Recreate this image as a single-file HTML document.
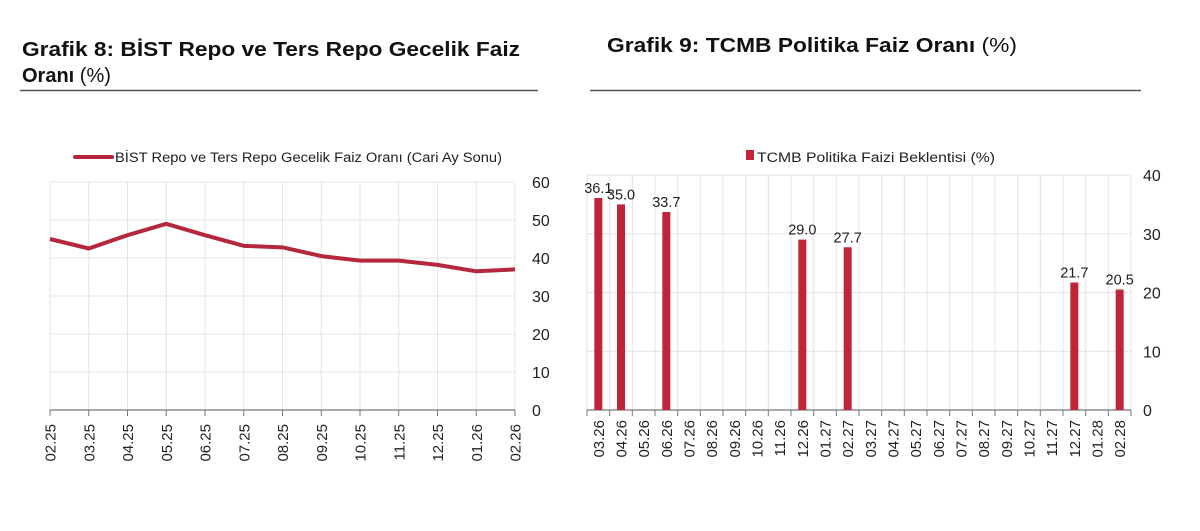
<!DOCTYPE html>
<html><head><meta charset="utf-8"><style>
html,body{margin:0;padding:0;background:#fff;}
svg{display:block;font-family:"Liberation Sans",sans-serif;}
</style></head><body>
<svg id="s" width="1200" height="531" viewBox="0 0 1200 531" xmlns="http://www.w3.org/2000/svg">
<text x="22" y="56" font-size="20" font-weight="bold" fill="#111" textLength="498" lengthAdjust="spacingAndGlyphs">Grafik 8:  BİST Repo ve Ters Repo Gecelik Faiz</text>
<text x="22" y="82" font-size="20" fill="#111"><tspan font-weight="bold">Oranı</tspan> (%)</text>
<line x1="20" y1="90.5" x2="538" y2="90.5" stroke="#555" stroke-width="1.5"/>
<text x="607" y="52" font-size="20" fill="#111" textLength="410" lengthAdjust="spacingAndGlyphs"><tspan font-weight="bold">Grafik 9: TCMB Politika Faiz Oranı</tspan> (%)</text>
<line x1="590" y1="90.5" x2="1141" y2="90.5" stroke="#555" stroke-width="1.5"/>
<line x1="75" y1="157" x2="112" y2="157" stroke="#b5273c" stroke-width="4" stroke-linecap="round"/>
<text x="115" y="162" font-size="13.5" fill="#222" textLength="387" lengthAdjust="spacingAndGlyphs">BİST Repo ve Ters Repo Gecelik Faiz Oranı (Cari Ay Sonu)</text>
<rect x="746" y="150" width="8" height="10" fill="#c0243a"/>
<text x="757" y="162" font-size="13.5" fill="#222" textLength="238" lengthAdjust="spacingAndGlyphs">TCMB Politika Faizi Beklentisi (%)</text>
<g id="g"></g>
</svg>
<script>
var g=document.getElementById('g'),h='';
for(var i=0;i<=6;i++){var y=410-38*i;if(i>0)h+='<line x1="50" x2="515" y1="'+y+'" y2="'+y+'" stroke="#e3e3e3"/>';h+='<text x="532" y="'+(y+6)+'" font-size="16" fill="#222">'+(i*10)+'</text>';}
var L=['02.25','03.25','04.25','05.25','06.25','07.25','08.25','09.25','10.25','11.25','12.25','01.26','02.26'];
var V=[45,42.5,46,49,46,43.2,42.8,40.5,39.3,39.3,38.2,36.5,37];
var pts=[];
for(var i=0;i<13;i++){var x=50+38.75*i;h+='<line x1="'+x+'" x2="'+x+'" y1="182" y2="410" stroke="#e3e3e3"/>';h+='<line x1="'+x+'" x2="'+x+'" y1="410" y2="416" stroke="#777"/>';
h+='<text transform="translate('+(x+5.5)+',424) rotate(-90)" text-anchor="end" font-size="15" fill="#222">'+L[i]+'</text>';pts.push(x+','+(410-3.8*V[i]));}
h+='<line x1="50" x2="515" y1="410" y2="410" stroke="#777" stroke-width="1.2"/>';
h+='<polyline points="'+pts.join(' ')+'" fill="none" stroke="#b5273c" stroke-width="4" stroke-linejoin="round"/>';
var x0=587,w=544/24;
for(var i=0;i<=4;i++){var y=410-58.75*i;if(i>0)h+='<line x1="'+x0+'" x2="1131" y1="'+y+'" y2="'+y+'" stroke="#e3e3e3"/>';h+='<text x="1143" y="'+(y+6)+'" font-size="16" fill="#222">'+(i*10)+'</text>';}
var R=['03.26','04.26','05.26','06.26','07.26','08.26','09.26','10.26','11.26','12.26','01.27','02.27','03.27','04.27','05.27','06.27','07.27','08.27','09.27','10.27','11.27','12.27','01.28','02.28'];
for(var i=0;i<=24;i++){var x=x0+w*i;h+='<line x1="'+x+'" x2="'+x+'" y1="175" y2="410" stroke="#e3e3e3"/><line x1="'+x+'" x2="'+x+'" y1="410" y2="416" stroke="#777"/>';}
for(var i=0;i<24;i++){var c=x0+w*(i+0.5);h+='<text transform="translate('+(c+5.5)+',420) rotate(-90)" text-anchor="end" font-size="15" fill="#222">'+R[i]+'</text>';}
h+='<line x1="'+x0+'" x2="1131" y1="410" y2="410" stroke="#777" stroke-width="1.2"/>';
var B=[[0,36.1],[1,35.0],[3,33.7],[9,29.0],[11,27.7],[21,21.7],[23,20.5]];
B.forEach(function(b){var c=x0+w*(b[0]+0.5),t=410-5.875*b[1];h+='<rect x="'+(c-4)+'" y="'+t+'" width="8" height="'+(410-t)+'" fill="#c0243a"/>';h+='<text x="'+c+'" y="'+(t-5)+'" text-anchor="middle" font-size="14.5" fill="#222">'+b[1].toFixed(1)+'</text>';});
g.innerHTML=h;
</script>
</body></html>
